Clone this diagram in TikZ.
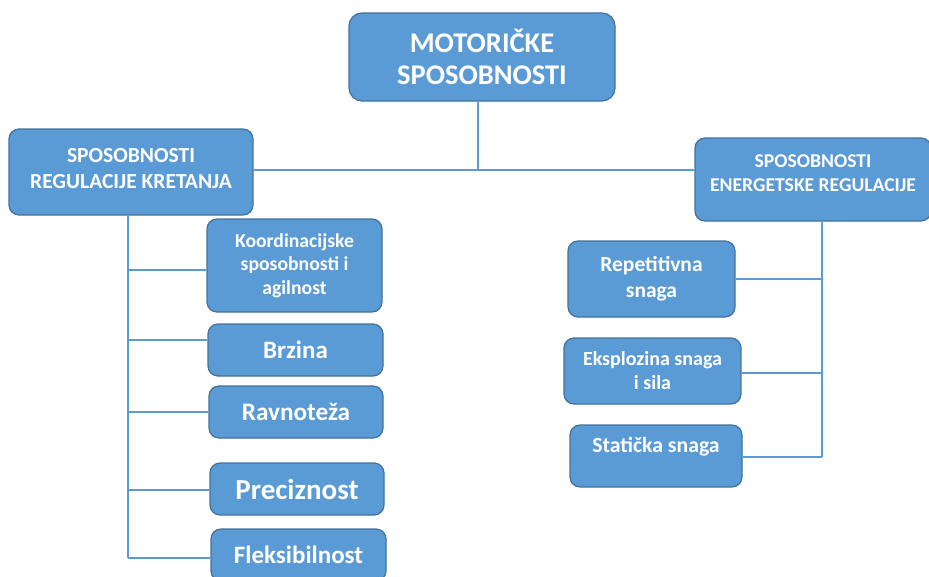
\documentclass[tikz,border=0pt]{standalone}
\usepackage{fontspec}
\setmainfont{Carlito}
\usetikzlibrary{positioning}
\definecolor{boxblue}{HTML}{5B9BD5}
\definecolor{boxedge}{HTML}{41719C}

\tikzset{
  blok/.style={draw=boxedge, line width=1.2pt, fill=boxblue, rounded corners=10pt,
    text=white, font=\bfseries, align=center, inner sep=2pt},
  veza/.style={draw=boxblue, line width=2.2pt}
}
\newcommand{\vel}[1]{\fontsize{#1}{1.2\dimexpr#1pt\relax}\selectfont}

\begin{document}
\begin{tikzpicture}[x=1pt,y=-1pt]
\useasboundingbox (0,0) rectangle (929,576);
% glavni blok
\node[blok, minimum width=266pt, minimum height=88pt, rounded corners=13pt, font=\bfseries\fontsize{28.5}{32}\selectfont] (M) at (482,57) {MOTORIČKE\\SPOSOBNOSTI};
% dvije skupine
\node[blok, minimum width=244pt, minimum height=86pt, text depth=7pt, font=\bfseries\fontsize{21.5}{26}\selectfont] (L) at (131,172) {SPOSOBNOSTI\\REGULACIJE KRETANJA};
\node[blok, minimum width=236pt, minimum height=83pt, text depth=13pt, font=\bfseries\vel{19.6}] (R) at (813,179.5) {SPOSOBNOSTI\\ENERGETSKE REGULACIJE};
% lijeva strana
\node[blok, minimum width=175pt, minimum height=93pt, font=\bfseries\vel{19.7}] (L-1) at (294.5,265.5) {Koordinacijske\\sposobnosti i\\agilnost};
\node[blok, minimum width=175pt, minimum height=52pt, font=\bfseries\vel{25}] (L-2) at (295.5,350) {Brzina};
\node[blok, minimum width=174pt, minimum height=52pt, font=\bfseries\vel{25.2}] (L-3) at (296,412) {Ravnoteža};
\node[blok, minimum width=174pt, minimum height=52pt, font=\bfseries\vel{29}] (L-4) at (297,489) {Preciznost};
\node[blok, minimum width=175pt, minimum height=52pt, font=\bfseries\vel{25}] (L-5) at (298.5,555) {Fleksibilnost};
% desna strana
\node[blok, minimum width=167pt, minimum height=76pt, font=\bfseries\vel{21.5}] (R-1) at (651.5,279) {Repetitivna\\snaga};
\node[blok, minimum width=177pt, minimum height=66pt, font=\bfseries\vel{20}] (R-2) at (652.5,371) {Eksplozina snaga\\i sila};
\node[blok, minimum width=172pt, minimum height=62pt, text depth=22pt, font=\bfseries\vel{21.7}] (R-3) at (656,456) {Statička snaga};

\coordinate (J) at (478,170);
\coordinate (Ldno) at (128,558);
\coordinate (Rdno) at (822,457);
\draw[veza] (M.south -| J) -- (J);
\draw[veza] (L.east |- J) -- (R.west |- J);
\draw[veza] (L.south -| Ldno) -- (Ldno);
\foreach \n/\d in {1/-4.5,2/10,3/0,4/-1,5/-3}
  \draw[veza] ([yshift=\d pt]L-\n.west) -- ([yshift=\d pt]L-\n.west -| Ldno);
\draw[veza] (R.south -| Rdno) -- (Rdno);
\foreach \n/\d in {1/0,2/-2,3/-1}
  \draw[veza] ([yshift=\d pt]R-\n.east) -- ([yshift=\d pt]R-\n.east -| Rdno);
\end{tikzpicture}
\end{document}
